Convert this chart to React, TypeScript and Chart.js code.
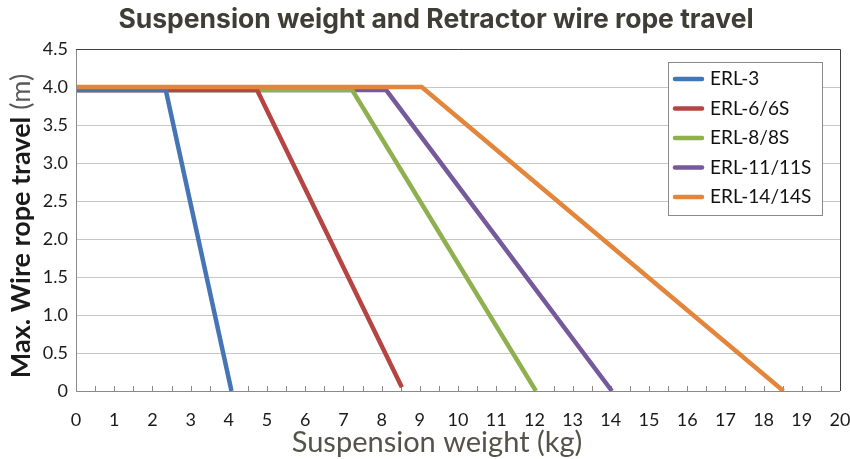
import React, { useEffect, useRef } from "react";
import { Chart, registerables } from "chart.js";

Chart.register(...registerables);

const titleText = "Suspension weight and Retractor wire rope travel";
const xTitleText = "Suspension weight (kg)";
const yTitleBold = "Max. Wire rope travel";
const yTitleUnit = " (m)";

const seriesNames = ["ERL-3", "ERL-6/6S", "ERL-8/8S", "ERL-11/11S", "ERL-14/14S"];
const seriesColors = ["#4675b5", "#b54542", "#8fb04f", "#76599b", "#e3853a"];

// suspension weight (kg) / wire rope travel (m) per model
const erl3Weight = [0, 2.35, 4.07];
const erl3Travel = [3.96, 3.96, 0];
const erl6Weight = [0, 4.74, 8.53];
const erl6Travel = [3.96, 3.96, 0.05];
const erl8Weight = [0, 7.23, 12.04];
const erl8Travel = [3.96, 3.96, 0];
const erl11Weight = [0, 8.12, 14.03];
const erl11Travel = [3.96, 3.96, 0];
const erl14Weight = [0, 9.05, 18.52];
const erl14Travel = [4.0, 4.0, 0];

const weights = [erl3Weight, erl6Weight, erl8Weight, erl11Weight, erl14Weight];
const travels = [erl3Travel, erl6Travel, erl8Travel, erl11Travel, erl14Travel];

const xMin = 0;
const xMax = 20;
const yMin = 0;
const yMax = 4.5;

const LABEL_FONT = "Lato, sans-serif";

const decorPlugin = {
  id: "decor",
  beforeDatasetsDraw(chart: any) {
    const { ctx, chartArea: a, scales } = chart;
    const xs = scales.x;
    ctx.save();
    ctx.strokeStyle = "#8a8a8a";
    ctx.lineWidth = 1;
    xs.ticks.forEach((t: any) => {
      const px = Math.round(xs.getPixelForValue(t.value)) + 0.5;
      ctx.beginPath();
      ctx.moveTo(px, a.bottom);
      ctx.lineTo(px, a.bottom - 5);
      ctx.stroke();
    });
    ctx.restore();
  },
  afterDraw(chart: any) {
    const { ctx, chartArea: a } = chart;
    ctx.save();
    ctx.lineWidth = 1;
    ctx.strokeStyle = "#8a8a8a";
    ctx.beginPath();
    ctx.moveTo(Math.round(a.left) + 0.5, a.top);
    ctx.lineTo(Math.round(a.left) + 0.5, Math.round(a.bottom) + 0.5);
    ctx.lineTo(a.right, Math.round(a.bottom) + 0.5);
    ctx.stroke();
    ctx.strokeStyle = "#404040";
    ctx.beginPath();
    ctx.moveTo(a.left, Math.round(a.top) + 0.5);
    ctx.lineTo(Math.round(a.right) + 0.5, Math.round(a.top) + 0.5);
    ctx.lineTo(Math.round(a.right) + 0.5, a.bottom);
    ctx.stroke();

    // title
    ctx.fillStyle = "#3f3e36";
    ctx.font = "bold 26.5px Inter, sans-serif";
    ctx.textAlign = "center";
    ctx.textBaseline = "middle";
    ctx.fillText(titleText, 436, 20);

    // x title
    ctx.fillStyle = "#555249";
    ctx.font = `29px ${LABEL_FONT}`;
    ctx.fillText(xTitleText, 437, 443);

    // y title (mixed styles)
    ctx.save();
    ctx.translate(21, 226);
    ctx.rotate(-Math.PI / 2);
    ctx.textBaseline = "middle";
    ctx.textAlign = "left";
    const boldFont = `bold 27px ${LABEL_FONT}`;
    const normFont = `27px ${LABEL_FONT}`;
    ctx.font = boldFont;
    const w1 = ctx.measureText(yTitleBold).width;
    ctx.font = normFont;
    const w2 = ctx.measureText(yTitleUnit).width;
    const start = -(w1 + w2) / 2;
    ctx.font = boldFont;
    ctx.fillStyle = "#1a1a1a";
    ctx.fillText(yTitleBold, start, 0);
    ctx.font = normFont;
    ctx.fillStyle = "#595959";
    ctx.fillText(yTitleUnit, start + w1, 0);
    ctx.restore();

    // legend
    const lx = 668, ly = 62, lw = 154, lh = 153;
    ctx.fillStyle = "#ffffff";
    ctx.fillRect(lx, ly, lw, lh);
    ctx.strokeStyle = "#8a8a8a";
    ctx.lineWidth = 1;
    ctx.strokeRect(lx + 0.5, ly + 0.5, lw, lh);
    ctx.font = `19px ${LABEL_FONT}`;
    ctx.textAlign = "left";
    ctx.textBaseline = "middle";
    chart.data.datasets.forEach((ds: any, i: number) => {
      const yy = ly + 17 + i * 29.5;
      ctx.strokeStyle = ds.borderColor;
      ctx.lineWidth = 4.5;
      ctx.lineCap = "round";
      ctx.beginPath();
      ctx.moveTo(675, yy);
      ctx.lineTo(702, yy);
      ctx.stroke();
      ctx.fillStyle = "#111111";
      ctx.fillText(ds.label, 710, yy);
    });
    ctx.restore();
  },
};

export default function App() {
  const ref = useRef<HTMLCanvasElement | null>(null);
  useEffect(() => {
    if (!ref.current) return;
    const datasets = seriesNames.map((name, i) => ({
      label: name,
      data: weights[i].map((w, j) => ({ x: w, y: travels[i][j] })),
      borderColor: seriesColors[i],
      backgroundColor: seriesColors[i],
      borderWidth: 4.5,
      pointRadius: 0,
      showLine: true,
      fill: false,
      tension: 0,
      borderCapStyle: "butt" as const,
      borderJoinStyle: "miter" as const,
      order: i === 4 ? -1 : 0,
    }));
    const chart = new Chart(ref.current, {
      type: "scatter",
      data: { datasets },
      options: {
        animation: false,
        responsive: false,
        devicePixelRatio: 1,
        layout: { padding: { left: 0, right: 10, top: 49, bottom: 0 } },
        plugins: { legend: { display: false }, tooltip: { enabled: false }, title: { display: false } },
        scales: {
          x: {
            type: "linear",
            min: xMin,
            max: xMax,
            grid: { display: false },
            border: { display: false },
            afterFit: (s: any) => { s.height = 68; s.paddingRight = 0; s.paddingLeft = 0; },
            ticks: {
              stepSize: 0.5,
              autoSkip: false,
              maxRotation: 0,
              padding: 10,
              color: "#1a1a1a",
              font: { family: LABEL_FONT, size: 18 },
              callback: (v: any) => (Number.isInteger(v) ? String(v) : ""),
            },
          },
          y: {
            type: "linear",
            min: yMin,
            max: yMax,
            grid: { color: "#c6c6c6", drawTicks: false, lineWidth: 1 },
            border: { display: false },
            afterFit: (s: any) => { s.width = 76; s.paddingTop = 0; s.paddingBottom = 0; },
            ticks: {
              stepSize: 0.5,
              padding: 8,
              color: "#1a1a1a",
              font: { family: LABEL_FONT, size: 18 },
              callback: (v: any) => (v === 0 ? "0" : Number(v).toFixed(1)),
            },
          },
        },
      },
      plugins: [decorPlugin],
    });
    return () => chart.destroy();
  }, []);
  return (
    <div style={{ position: "absolute", left: 0, top: 0, width: 850, height: 459, background: "#fff" }}>
      <canvas ref={ref} width={850} height={459} style={{ display: "block" }} />
    </div>
  );
}
